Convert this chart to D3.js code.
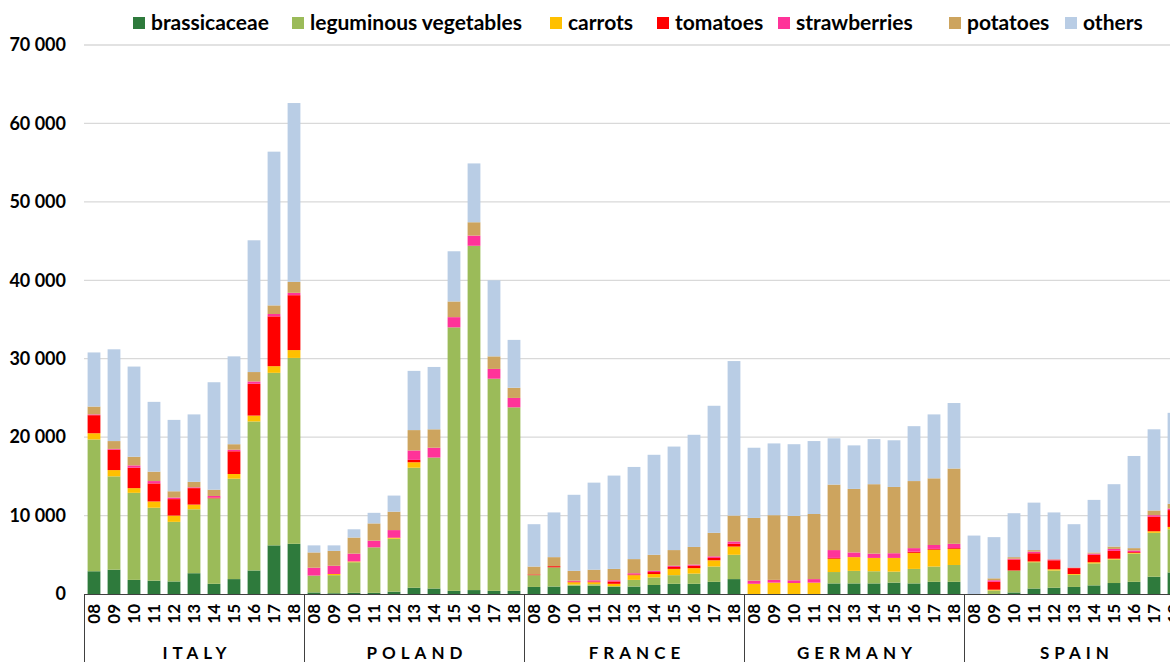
<!DOCTYPE html>
<html>
<head>
<meta charset="utf-8">
<script src="https://cdn.jsdelivr.net/npm/d3@7"></script>
<style>
  body { margin: 0; background: #fff; }
  svg { display: block; }
</style>
</head>
<body>
<script>
// stacked harvest bars, five countries, years 08-18 (values in tonnes)

var countries = ["ITALY", "POLAND", "FRANCE", "GERMANY", "SPAIN"]
var years = ["08", "09", "10", "11", "12", "13", "14", "15", "16", "17", "18"]
var seriesNames = ["brassicaceae", "leguminous vegetables", "carrots", "tomatoes", "strawberries", "potatoes", "others"]
var seriesColours = ["#2E7A3C", "#9BBB59", "#FFC000", "#FF0000", "#FF3399", "#CDA45E", "#B9CDE5"]
var yTicks = [0, 10000, 20000, 30000, 40000, 50000, 60000, 70000]

// one array per series, 55 values: Italy 08-18, Poland 08-18, France, Germany, Spain
var brassicaceae = [
  2900, 3100, 1800, 1700, 1600, 2650, 1300, 1900, 3000, 6200, 6400,
  200, 100, 150, 150, 300, 800, 700, 400, 500, 400, 400,
  900, 950, 1050, 1050, 900, 950, 1150, 1300, 1300, 1550, 1900,
  0, 0, 0, 0, 1350, 1350, 1350, 1450, 1350, 1550, 1550,
  0, 0, 200, 700, 800, 900, 1100, 1400, 1550, 2200, 2750]
var leguminous = [
  16800, 11900, 11100, 9300, 7600, 8150, 10900, 12800, 19000, 22000, 23700,
  2150, 2300, 3900, 5800, 6750, 15300, 16700, 33600, 43900, 27050, 23400,
  1500, 2450, 150, 200, 100, 850, 950, 1100, 1300, 1950, 3100,
  0, 0, 0, 0, 1450, 1600, 1550, 1400, 1850, 1950, 2150,
  0, 450, 2800, 3350, 2200, 1550, 2800, 3000, 3600, 5600, 5500]
var carrots = [
  800, 800, 600, 800, 800, 600, 0, 600, 750, 850, 1000,
  0, 150, 100, 0, 100, 700, 0, 0, 0, 0, 0,
  0, 0, 300, 250, 300, 600, 450, 800, 700, 800, 1050,
  1300, 1450, 1400, 1450, 1700, 1750, 1700, 1750, 2050, 2150, 2050,
  0, 100, 0, 100, 150, 100, 150, 100, 100, 200, 300]
var tomatoes = [
  2300, 2600, 2600, 2300, 2100, 2100, 100, 2900, 4050, 6350, 7000,
  0, 0, 0, 0, 50, 300, 0, 0, 0, 0, 0,
  100, 150, 100, 100, 300, 100, 250, 250, 300, 300, 350,
  0, 0, 0, 0, 100, 0, 0, 0, 150, 100, 100,
  0, 1000, 1400, 1050, 1150, 750, 950, 1000, 100, 1850, 2150]
var strawberries = [
  100, 100, 300, 300, 200, 100, 200, 200, 300, 300, 300,
  1000, 1050, 1000, 850, 950, 1200, 1250, 1300, 1300, 1250, 1200,
  0, 0, 100, 150, 150, 150, 150, 150, 150, 200, 300,
  400, 350, 350, 450, 1000, 600, 550, 600, 450, 500, 550,
  0, 200, 100, 200, 100, 50, 150, 250, 200, 200, 200]
var potatoes = [
  1000, 1000, 1100, 1200, 800, 700, 800, 700, 1200, 1100, 1400,
  1950, 1900, 2050, 2200, 2350, 2600, 2350, 2000, 1700, 1600, 1300,
  1000, 1150, 1250, 1350, 1450, 1800, 2050, 2000, 2250, 3000, 3300,
  8000, 8250, 8200, 8300, 8350, 8100, 8850, 8450, 8550, 8500, 9600,
  0, 250, 200, 200, 50, 50, 150, 300, 300, 600, 600]
var others = [
  6900, 11700, 11500, 8900, 9100, 8600, 13700, 11200, 16800, 19600, 22800,
  900, 700, 1050, 1350, 2050, 7550, 7950, 6400, 7500, 9700, 6100,
  5400, 5700, 9700, 11100, 11900, 11750, 12750, 13200, 14300, 16200, 19700,
  8950, 9150, 9150, 9300, 5900, 5550, 5750, 5950, 7000, 8150, 8350,
  7450, 5250, 5600, 6050, 5950, 5500, 6700, 7950, 11750, 10350, 11600]

var seriesValues = [brassicaceae, leguminous, carrots, tomatoes, strawberries, potatoes, others]

// Build rows for d3.stack
var rows = []
countries.forEach((c, ci) => {
  years.forEach((y, yi) => {
    let row = {key: c + "-" + y, country: c, year: y}
    seriesNames.forEach((s, si) => { row[s] = seriesValues[si][ci * years.length + yi] })
    rows.push(row)
  })
})

// Chart size
var width = 1170
var height = 662
var plotLeft = 84
var slot = 20
var plotRight = plotLeft + slot * rows.length   // runs past the window edge, as in the original
var baseY = 594
var topY = 45

var svg = d3.select("body")
  .append("svg")
  .attr("width", width)
  .attr("height", height)
  .style("font-family", "Lato, 'Open Sans', sans-serif")

var x = d3.scaleBand()
  .domain(rows.map((d) => d.key))
  .range([plotLeft, plotRight])
  .paddingInner(0.36)
  .paddingOuter(0.18)

var y = d3.scaleLinear()
  .domain([0, 70000])
  .range([baseY, topY])

var fmt = d3.formatLocale({decimal: ".", thousands: " ", grouping: [3], currency: ["", ""]}).format(",d")

// Gridlines
svg.append("g")
  .selectAll("line")
  .data(yTicks.filter((t) => t > 0))
  .enter()
  .append("line")
    .attr("x1", plotLeft)
    .attr("x2", width)
    .attr("y1", (d) => y(d))
    .attr("y2", (d) => y(d))
    .attr("stroke", "#d9d9d9")
    .attr("stroke-width", 1.3)

// Y axis labels (no axis line in the original)
var yAxis = svg.append("g")
  .attr("transform", "translate(" + plotLeft + ",0)")
  .call(d3.axisLeft(y).tickValues(yTicks).tickFormat(fmt).tickSize(0).tickPadding(18))
yAxis.select(".domain").remove()
yAxis.selectAll("text")
  .attr("font-size", 18)
  .attr("font-weight", "bold")
  .attr("fill", "#000")
  .style("font-family", "Lato, sans-serif")

// Stacked bars
var stacked = d3.stack().keys(seriesNames)(rows)
var colour = d3.scaleOrdinal().domain(seriesNames).range(seriesColours)

svg.append("g")
  .selectAll("g")
  .data(stacked)
  .enter()
  .append("g")
    .attr("fill", (d) => colour(d.key))
  .selectAll("rect")
  .data((d) => d)
  .enter()
  .append("rect")
    .attr("x", (d) => x(d.data.key))
    .attr("width", x.bandwidth())
    .attr("y", (d) => y(d[1]))
    .attr("height", (d) => Math.max(0, y(d[0]) - y(d[1])))

// Category axis: base line, year ticks, country groups
svg.append("line")
  .attr("x1", plotLeft)
  .attr("x2", width)
  .attr("y1", baseY + 0.5)
  .attr("y2", baseY + 0.5)
  .attr("stroke", "#404040")
  .attr("stroke-width", 1)

svg.append("g")
  .selectAll("text")
  .data(rows)
  .enter()
  .append("text")
    .attr("transform", (d) => "translate(" + (x(d.key) + x.bandwidth() / 2 + 6) + "," + (baseY + 10) + ") rotate(-90)")
    .attr("text-anchor", "end")
    .attr("font-size", 17)
    .attr("font-weight", "bold")
    .text((d) => d.year)

var groupEdges = countries.map((c, i) => plotLeft + i * slot * years.length)
groupEdges.push(plotRight)
svg.append("g")
  .selectAll("line")
  .data(groupEdges)
  .enter()
  .append("line")
    .attr("x1", (d) => d + 0.5)
    .attr("x2", (d) => d + 0.5)
    .attr("y1", baseY)
    .attr("y2", height)
    .attr("stroke", "#404040")
    .attr("stroke-width", 1)

svg.append("g")
  .selectAll("text")
  .data(countries)
  .enter()
  .append("text")
    .attr("x", (d, i) => groupEdges[i] + slot * years.length / 2 + 3)
    .attr("y", 659)
    .attr("text-anchor", "middle")
    .attr("font-size", 17)
    .attr("font-weight", "bold")
    .attr("letter-spacing", 5)
    .text((d) => d)

// Legend
var legendX = [133, 292, 550, 657, 778, 949, 1065]
var legend = svg.append("g")
  .selectAll("g")
  .data(seriesNames)
  .enter()
  .append("g")
    .attr("transform", (d, i) => "translate(" + legendX[i] + ",17)")
legend.append("rect")
  .attr("width", 12)
  .attr("height", 12)
  .attr("fill", (d) => colour(d))
legend.append("text")
  .attr("x", 18)
  .attr("y", 13)
  .attr("font-size", 21)
  .attr("font-weight", "bold")
  .text((d) => d)
</script>
</body>
</html>
